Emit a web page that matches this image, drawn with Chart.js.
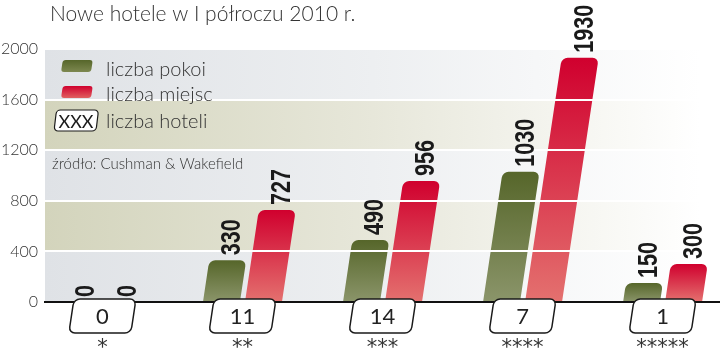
<!DOCTYPE html>
<html><head><meta charset="utf-8">
<script src="https://cdn.jsdelivr.net/npm/chart.js@4.4.1/dist/chart.umd.min.js"></script>
<style>html,body{margin:0;padding:0;background:#fff;}#wrap{width:720px;height:361px;position:relative;}</style>
</head><body><div id="wrap"><canvas id="c"></canvas></div>
<script>
const chartTitle = 'Nowe hotele w I półroczu 2010 r.';
const categories = ['*', '**', '***', '****', '*****'];
const hotelCounts = [0, 11, 14, 7, 1];
const rooms = [0, 330, 490, 1030, 150];
const places = [0, 727, 956, 1930, 300];
const seriesNames = ['liczba pokoi', 'liczba miejsc', 'liczba hoteli'];
const yTicks = [0, 400, 800, 1200, 1600, 2000];
const sourceText = 'źródło: Cushman & Wakefield';

const K = 0.15; // slant of bars and boxes
const LIGHT = '300 ', FONT = 'Lato, "Open Sans", sans-serif';
const NUMFONT = 'bold 27px "Liberation Sans", Arial, sans-serif';

function skewRoundRect(ctx, bx, yTop, w, h, r, k) {
  const yb = yTop + h;
  ctx.save();
  ctx.transform(1, 0, -k, 1, k * yb, 0);
  ctx.beginPath();
  ctx.roundRect(bx, yTop, w, h, r);
  ctx.restore();
}

function barGradient(chart, value, top, bottom) {
  const ys = chart.scales.y;
  if (!ys || !chart.chartArea) return top;
  const t = ys.getPixelForValue(value), b = ys.getPixelForValue(0);
  if (!isFinite(t) || !isFinite(b) || b - t < 1) return top;
  const g = chart.ctx.createLinearGradient(0, t, 0, b);
  g.addColorStop(0, top); g.addColorStop(1, bottom);
  return g;
}

const deco = {
  id: 'deco',
  beforeDraw(chart) {
    const {ctx, chartArea: a, scales: {y}} = chart;
    ctx.save();
    for (let i = 0; i < yTicks.length - 1; i++) {
      const t = y.getPixelForValue(yTicks[i + 1]), b = y.getPixelForValue(yTicks[i]);
      const g = ctx.createLinearGradient(a.left, 0, a.right - 20, 0);
      g.addColorStop(0, i % 2 === 0 ? '#dfe2e6' : '#d3d4bc');
      g.addColorStop(0.5, i % 2 === 0 ? '#edeff1' : '#e7e7da');
      g.addColorStop(1, '#ffffff');
      ctx.fillStyle = g;
      ctx.fillRect(a.left, t, a.right - a.left, b - t);
    }
    ctx.restore();
  },
  beforeDatasetDraw(chart) {
    const y0 = chart.scales.y.getPixelForValue(0);
    chart.ctx.save();
    chart.ctx.transform(1, 0, -K, 1, K * y0, 0);
  },
  afterDatasetDraw(chart) { chart.ctx.restore(); },
  afterDraw(chart) {
    const {ctx, scales: {x, y}} = chart;
    const y0 = y.getPixelForValue(0);
    ctx.save();
    ctx.fillStyle = '#1a1a1a';
    ctx.font = NUMFONT;
    chart.data.datasets.forEach((ds, di) => {
      chart.getDatasetMeta(di).data.forEach((bar, i) => {
        const v = ds.data[i].y;
        const top = bar.y;
        const cx = bar.x + K * (y0 - top) + 5;
        ctx.save();
        ctx.translate(cx, top - 5);
        ctx.rotate(-Math.PI / 2);
        ctx.scale(0.8, 1);
        ctx.textAlign = 'left';
        ctx.textBaseline = 'middle';
        ctx.fillText(String(v), 0, 0);
        ctx.restore();
      });
    });
    categories.forEach((c, i) => {
      const cx = x.getPixelForValue(i);
      const h = 34, w = 62, top = y0 - 3;
      skewRoundRect(ctx, cx - w / 2 - K * h / 2, top, w, h, 6, K);
      ctx.fillStyle = '#fff'; ctx.fill();
      ctx.lineWidth = 1.5; ctx.strokeStyle = '#1a1a1a'; ctx.stroke();
      ctx.fillStyle = '#222';
      ctx.font = '400 22px ' + FONT;
      ctx.textAlign = 'center'; ctx.textBaseline = 'alphabetic';
      ctx.fillText(String(hotelCounts[i]), cx, top + 25);
      ctx.font = '21px "DejaVu Sans", sans-serif';
      ctx.fillStyle = '#333';
      ctx.fillText(c, cx, 354);
    });
    const sw = [['#56662a', '#7d8850'], ['#d0002e', '#e0605f']];
    sw.forEach((cols, i) => {
      const t = 60 + i * 26;
      const g = ctx.createLinearGradient(0, t, 0, t + 12);
      g.addColorStop(0, cols[0]); g.addColorStop(1, cols[1]);
      skewRoundRect(ctx, 61, t, 30, 12, 3, 0.15);
      ctx.fillStyle = g; ctx.fill();
    });
    skewRoundRect(ctx, 54, 110, 42, 21, 4, 0.12);
    ctx.fillStyle = '#fff'; ctx.fill();
    ctx.lineWidth = 1.2; ctx.strokeStyle = '#1a1a1a'; ctx.stroke();
    ctx.fillStyle = '#1a1a1a';
    ctx.font = '400 18px ' + FONT;
    ctx.textAlign = 'center';
    ctx.fillText('XXX', 76, 128);
    ctx.textAlign = 'left';
    ctx.fillStyle = '#333';
    ctx.font = LIGHT + '20px ' + FONT;
    ctx.fillText(seriesNames[0], 106, 76);
    ctx.fillText(seriesNames[1], 106, 101);
    ctx.fillText(seriesNames[2], 106, 128);
    ctx.font = LIGHT + '15px ' + FONT;
    ctx.fillText(sourceText, 52, 169);
    ctx.font = LIGHT + '21px ' + FONT;
    ctx.fillStyle = '#333';
    ctx.fillText(chartTitle, 50, 21);
    ctx.restore();
  }
};

new Chart(document.getElementById('c'), {
  type: 'bar',
  data: {
    datasets: [
      {
        label: seriesNames[0],
        data: rooms.map((v, i) => ({x: i, y: v})),
        backgroundColor: c => barGradient(c.chart, c.raw ? c.raw.y : 0, '#56662a', '#8b956a')
      },
      {
        label: seriesNames[1],
        data: places.map((v, i) => ({x: i, y: v})),
        backgroundColor: c => barGradient(c.chart, c.raw ? c.raw.y : 0, '#d0002e', '#e4716f')
      }
    ]
  },
  plugins: [deco],
  options: {
    responsive: true,
    maintainAspectRatio: false,
    animation: false,
    devicePixelRatio: 1,
    layout: {padding: {top: 49, left: 0, right: 0, bottom: 0}},
    datasets: {bar: {categoryPercentage: 0.6, barPercentage: 0.88, borderRadius: 6, borderSkipped: 'start', clip: false}},
    plugins: {legend: {display: false}, tooltip: {enabled: false}, title: {display: false}},
    scales: {
      x: {
        type: 'linear', min: -0.41, max: 4.41, offset: false,
        afterBuildTicks: s => { s.ticks = categories.map((_, i) => ({value: i})); },
        afterFit: s => { s.height = 59; },
        grid: {display: false, offset: false},
        border: {display: true, color: '#111', width: 2},
        ticks: {display: false}
      },
      y: {
        min: 0, max: 2000,
        afterBuildTicks: s => { s.ticks = yTicks.map(v => ({value: v})); },
        afterFit: s => { s.width = 45; },
        grid: {z: 1, lineWidth: 2, drawTicks: false, color: c => (c.tick && c.tick.value === 0) ? 'rgba(0,0,0,0)' : '#ffffff'},
        border: {display: false},
        ticks: {padding: 7, color: '#333', font: {family: 'Lato', size: 16, weight: '300'}, callback: v => String(v)}
      }
    }
  }
});
</script></body></html>
